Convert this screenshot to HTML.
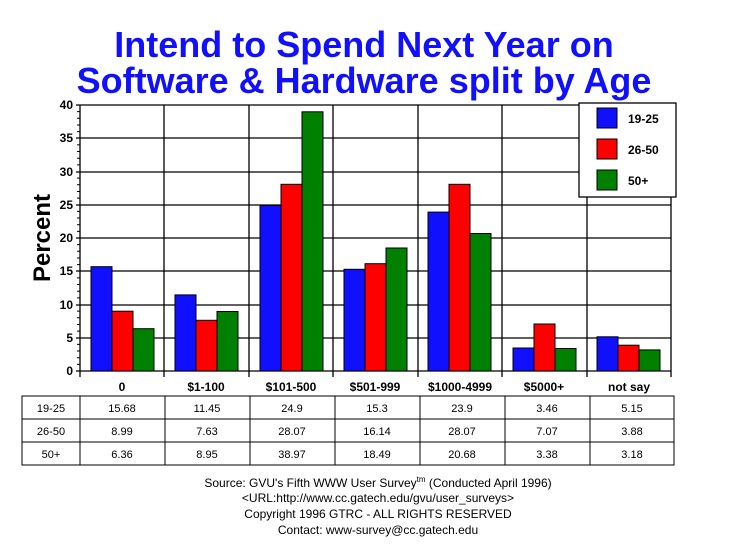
<!DOCTYPE html>
<html><head><style>body{margin:0;background:#fff}svg{display:block}</style></head><body>
<svg width="729" height="553" xmlns="http://www.w3.org/2000/svg" font-family="Liberation Sans, Arial, sans-serif">
<rect width="729" height="553" fill="#fff"/>
<text x="364" y="57" text-anchor="middle" font-size="36" font-weight="bold" fill="#1010ff">Intend to Spend Next Year on</text>
<text x="364" y="93" text-anchor="middle" font-size="36" font-weight="bold" fill="#1010ff">Software &amp; Hardware split by Age</text>
<text transform="translate(50,238) rotate(-90)" text-anchor="middle" font-size="24" font-weight="bold">Percent</text>
<g stroke="#000" stroke-width="1.3" fill="none">
<line x1="76" y1="105" x2="671" y2="105"/><line x1="76" y1="138" x2="671" y2="138"/><line x1="76" y1="172" x2="671" y2="172"/><line x1="76" y1="205" x2="671" y2="205"/><line x1="76" y1="238" x2="671" y2="238"/><line x1="76" y1="271" x2="671" y2="271"/><line x1="76" y1="305" x2="671" y2="305"/><line x1="76" y1="338" x2="671" y2="338"/><line x1="76" y1="371" x2="671" y2="371"/>
<line x1="80" y1="105" x2="80" y2="377"/><line x1="164" y1="105" x2="164" y2="377"/><line x1="249" y1="105" x2="249" y2="377"/><line x1="333" y1="105" x2="333" y2="377"/><line x1="418" y1="105" x2="418" y2="377"/><line x1="502" y1="105" x2="502" y2="377"/><line x1="587" y1="105" x2="587" y2="377"/><line x1="671" y1="105" x2="671" y2="377"/>
</g>
<path stroke="#000" stroke-width="1" d="M77 111.65H80M77 118.3H80M77 124.95H80M77 131.6H80M77 144.9H80M77 151.55H80M77 158.2H80M77 164.85H80M77 178.15H80M77 184.8H80M77 191.45H80M77 198.1H80M77 211.4H80M77 218.05H80M77 224.7H80M77 231.35H80M77 244.65H80M77 251.3H80M77 257.95H80M77 264.6H80M77 277.9H80M77 284.55H80M77 291.2H80M77 297.85H80M77 311.15H80M77 317.8H80M77 324.45H80M77 331.1H80M77 344.4H80M77 351.05H80M77 357.7H80M77 364.35H80"/>
<g font-size="12" font-weight="bold" text-anchor="end">
<text x="73" y="109">40</text><text x="73" y="142">35</text><text x="73" y="176">30</text><text x="73" y="209">25</text><text x="73" y="242">20</text><text x="73" y="275">15</text><text x="73" y="309">10</text><text x="73" y="342">5</text><text x="73" y="375">0</text>
</g>
<g stroke="#000" stroke-width="1">
<rect x="91" y="266.7" width="21" height="104.3" fill="#1010ff"/><rect x="112" y="311.2" width="21" height="59.8" fill="#ff0000"/><rect x="133" y="328.7" width="21" height="42.3" fill="#008000"/>
<rect x="175" y="294.9" width="21" height="76.1" fill="#1010ff"/><rect x="196" y="320.3" width="21" height="50.7" fill="#ff0000"/><rect x="217" y="311.5" width="21" height="59.5" fill="#008000"/>
<rect x="260" y="205.4" width="21" height="165.6" fill="#1010ff"/><rect x="281" y="184.3" width="21" height="186.7" fill="#ff0000"/><rect x="302" y="111.8" width="21" height="259.2" fill="#008000"/>
<rect x="344" y="269.3" width="21" height="101.7" fill="#1010ff"/><rect x="365" y="263.7" width="21" height="107.3" fill="#ff0000"/><rect x="386" y="248.0" width="21" height="123.0" fill="#008000"/>
<rect x="428" y="212.1" width="21" height="158.9" fill="#1010ff"/><rect x="449" y="184.3" width="21" height="186.7" fill="#ff0000"/><rect x="470" y="233.5" width="21" height="137.5" fill="#008000"/>
<rect x="513" y="348.0" width="21" height="23.0" fill="#1010ff"/><rect x="534" y="324.0" width="21" height="47.0" fill="#ff0000"/><rect x="555" y="348.5" width="21" height="22.5" fill="#008000"/>
<rect x="597" y="336.8" width="21" height="34.2" fill="#1010ff"/><rect x="618" y="345.2" width="21" height="25.8" fill="#ff0000"/><rect x="639" y="349.9" width="21" height="21.1" fill="#008000"/>
</g>
<g font-size="12" font-weight="bold" text-anchor="middle">
<text x="122" y="391">0</text><text x="206" y="391">$1-100</text><text x="291" y="391">$101-500</text><text x="375" y="391">$501-999</text><text x="460" y="391">$1000-4999</text><text x="544" y="391">$5000+</text><text x="629" y="391">not say</text>
</g>
<rect x="579" y="103" width="97" height="94" fill="#fff" stroke="#000" stroke-width="1.3"/>
<rect x="597" y="108" width="20" height="20" fill="#1010ff" stroke="#000"/>
<rect x="597" y="139" width="20" height="20" fill="#ff0000" stroke="#000"/>
<rect x="597" y="170" width="20" height="20" fill="#008000" stroke="#000"/>
<g font-size="12" font-weight="bold"><text x="628" y="123">19-25</text><text x="628" y="154">26-50</text><text x="628" y="185">50+</text></g>
<g stroke="#000" stroke-width="1" fill="none">
<rect x="22" y="396" width="652" height="69"/>
<line x1="22" y1="419" x2="674" y2="419"/><line x1="22" y1="442" x2="674" y2="442"/>
<line x1="80" y1="396" x2="80" y2="465"/><line x1="165" y1="396" x2="165" y2="465"/><line x1="250" y1="396" x2="250" y2="465"/><line x1="335" y1="396" x2="335" y2="465"/><line x1="420" y1="396" x2="420" y2="465"/><line x1="505" y1="396" x2="505" y2="465"/><line x1="590" y1="396" x2="590" y2="465"/>
</g>
<g font-size="11" text-anchor="middle">
<text x="51" y="412">19-25</text><text x="122" y="412">15.68</text><text x="207" y="412">11.45</text><text x="292" y="412">24.9</text><text x="377" y="412">15.3</text><text x="462" y="412">23.9</text><text x="547" y="412">3.46</text><text x="632" y="412">5.15</text>
<text x="51" y="435">26-50</text><text x="122" y="435">8.99</text><text x="207" y="435">7.63</text><text x="292" y="435">28.07</text><text x="377" y="435">16.14</text><text x="462" y="435">28.07</text><text x="547" y="435">7.07</text><text x="632" y="435">3.88</text>
<text x="51" y="458">50+</text><text x="122" y="458">6.36</text><text x="207" y="458">8.95</text><text x="292" y="458">38.97</text><text x="377" y="458">18.49</text><text x="462" y="458">20.68</text><text x="547" y="458">3.38</text><text x="632" y="458">3.18</text>
</g>
<g font-size="12" text-anchor="middle">
<text x="378" y="487">Source: GVU's Fifth WWW User Survey<tspan font-size="8" dy="-5">tm</tspan><tspan dy="5">  (Conducted April 1996)</tspan></text>
<text x="378" y="502">&lt;URL:http://www.cc.gatech.edu/gvu/user_surveys&gt;</text>
<text x="378" y="518">Copyright 1996 GTRC -  ALL RIGHTS RESERVED</text>
<text x="378" y="534">Contact: www-survey@cc.gatech.edu</text>
</g>
</svg>
</body></html>
